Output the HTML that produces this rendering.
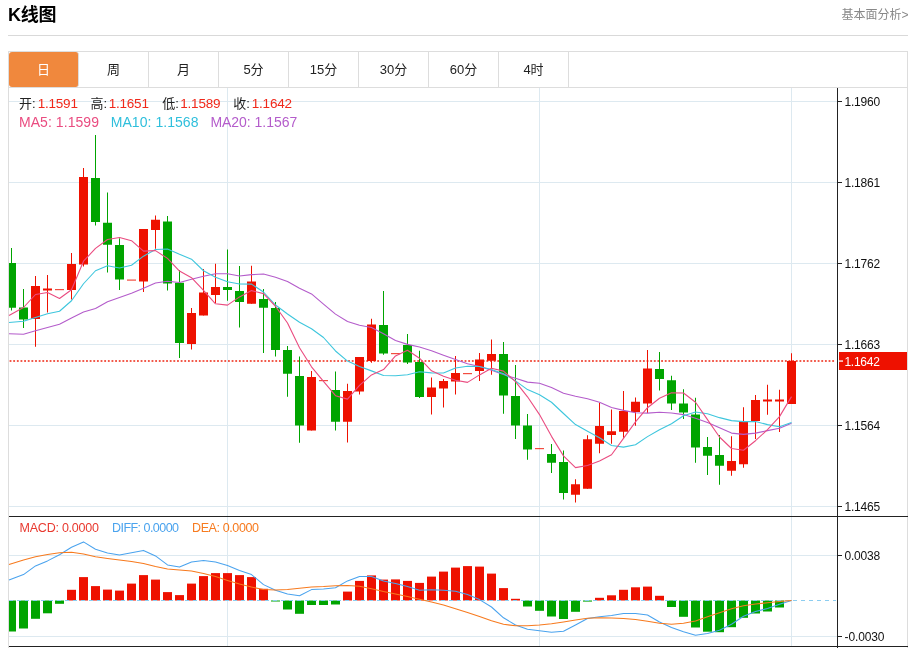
<!DOCTYPE html>
<html lang="zh-CN"><head><meta charset="utf-8"><title>K线图</title>
<style>
html,body{margin:0;padding:0;background:#fff;}
body{width:914px;height:648px;position:relative;overflow:hidden;font-family:"Liberation Sans","Noto Sans CJK SC",sans-serif;}
.title{position:absolute;left:8px;top:3px;font-size:18px;font-weight:bold;color:#000;line-height:24px;letter-spacing:-0.3px}
.more{position:absolute;right:5.5px;top:5.7px;font-size:12px;color:#888;line-height:18px}
.hr{position:absolute;left:8px;top:35px;width:900px;height:1px;background:#d9d9d9}
.box{position:absolute;left:8px;top:51px;width:898px;height:597px;border:1px solid #ddd;border-bottom:none}
.tabs{position:absolute;left:9px;top:52px;height:35px;width:898px;border-bottom:1px solid #ddd}
.tab{position:absolute;top:0;width:69px;height:35px;border-right:1px solid #ddd;text-align:center;line-height:35px;font-size:13px;color:#222}
.tab.on{background:#f0883d;color:#fff;border-radius:3px}
</style></head><body>
<div class="title">K线图</div>
<div class="more">基本面分析&gt;</div>
<div class="hr"></div>
<div class="box"></div>
<div class="tabs">
<div class="tab on" style="left:0px">日</div><div class="tab" style="left:70px">周</div><div class="tab" style="left:140px">月</div><div class="tab" style="left:210px">5分</div><div class="tab" style="left:280px">15分</div><div class="tab" style="left:350px">30分</div><div class="tab" style="left:420px">60分</div><div class="tab" style="left:490px">4时</div>
</div>
<svg width="914" height="648" viewBox="0 0 914 648" style="position:absolute;left:0;top:0">
<g shape-rendering="crispEdges" fill="#dde9f0">
<rect x="9" y="101" width="828" height="1"/>
<rect x="9" y="182" width="828" height="1"/>
<rect x="9" y="263" width="828" height="1"/>
<rect x="9" y="344" width="828" height="1"/>
<rect x="9" y="425" width="828" height="1"/>
<rect x="9" y="506" width="828" height="1"/>
<rect x="9" y="555" width="828" height="1"/>
<rect x="9" y="636" width="828" height="1"/>
<rect x="227" y="88" width="1" height="558"/>
<rect x="539" y="88" width="1" height="558"/>
<rect x="791" y="88" width="1" height="558"/>
</g>
<g>
<rect x="9" y="600.5" width="7" height="31" fill="#00a400"/>
<rect x="19" y="600.5" width="9" height="28" fill="#00a400"/>
<rect x="31" y="600.5" width="9" height="18.3" fill="#00a400"/>
<rect x="43" y="600.5" width="9" height="12.8" fill="#00a400"/>
<rect x="55" y="600.5" width="9" height="3.3" fill="#00a400"/>
<rect x="67" y="589.8" width="9" height="10.7" fill="#ee1100"/>
<rect x="79" y="577.1" width="9" height="23.4" fill="#ee1100"/>
<rect x="91" y="586.1" width="9" height="14.4" fill="#ee1100"/>
<rect x="103" y="589.6" width="9" height="10.9" fill="#ee1100"/>
<rect x="115" y="590.6" width="9" height="9.9" fill="#ee1100"/>
<rect x="127" y="583.6" width="9" height="16.9" fill="#ee1100"/>
<rect x="139" y="575.1" width="9" height="25.4" fill="#ee1100"/>
<rect x="151" y="579.6" width="9" height="20.9" fill="#ee1100"/>
<rect x="163" y="592.1" width="9" height="8.4" fill="#ee1100"/>
<rect x="175" y="595.1" width="9" height="5.4" fill="#ee1100"/>
<rect x="187" y="583.6" width="9" height="16.9" fill="#ee1100"/>
<rect x="199" y="576.1" width="9" height="24.4" fill="#ee1100"/>
<rect x="211" y="573.1" width="9" height="27.4" fill="#ee1100"/>
<rect x="223" y="573.1" width="9" height="27.4" fill="#ee1100"/>
<rect x="235" y="575.1" width="9" height="25.4" fill="#ee1100"/>
<rect x="247" y="577.1" width="9" height="23.4" fill="#ee1100"/>
<rect x="259" y="588.8" width="9" height="11.7" fill="#ee1100"/>
<rect x="271" y="600.5" width="9" height="1" fill="#00a400"/>
<rect x="283" y="600.5" width="9" height="9" fill="#00a400"/>
<rect x="295" y="600.5" width="9" height="13.3" fill="#00a400"/>
<rect x="307" y="600.5" width="9" height="4.5" fill="#00a400"/>
<rect x="319" y="600.5" width="9" height="4.5" fill="#00a400"/>
<rect x="331" y="600.5" width="9" height="4" fill="#00a400"/>
<rect x="343" y="591.6" width="9" height="8.9" fill="#ee1100"/>
<rect x="355" y="580.9" width="9" height="19.6" fill="#ee1100"/>
<rect x="367" y="575.4" width="9" height="25.1" fill="#ee1100"/>
<rect x="379" y="579.6" width="9" height="20.9" fill="#ee1100"/>
<rect x="391" y="579.4" width="9" height="21.1" fill="#ee1100"/>
<rect x="403" y="580.9" width="9" height="19.6" fill="#ee1100"/>
<rect x="415" y="582.9" width="9" height="17.6" fill="#ee1100"/>
<rect x="427" y="576.6" width="9" height="23.9" fill="#ee1100"/>
<rect x="439" y="571.6" width="9" height="28.9" fill="#ee1100"/>
<rect x="451" y="567.6" width="9" height="32.9" fill="#ee1100"/>
<rect x="463" y="566.1" width="9" height="34.4" fill="#ee1100"/>
<rect x="475" y="566.6" width="9" height="33.9" fill="#ee1100"/>
<rect x="487" y="573.6" width="9" height="26.9" fill="#ee1100"/>
<rect x="499" y="588.1" width="9" height="12.4" fill="#ee1100"/>
<rect x="511" y="598.8" width="9" height="1.7" fill="#ee1100"/>
<rect x="523" y="600.5" width="9" height="6" fill="#00a400"/>
<rect x="535" y="600.5" width="9" height="10.3" fill="#00a400"/>
<rect x="547" y="600.5" width="9" height="16" fill="#00a400"/>
<rect x="559" y="600.5" width="9" height="18.5" fill="#00a400"/>
<rect x="571" y="600.5" width="9" height="11.3" fill="#00a400"/>
<rect x="583" y="600.5" width="9" height="1.1" fill="#00a400"/>
<rect x="595" y="597.8" width="9" height="2.7" fill="#ee1100"/>
<rect x="607" y="595.3" width="9" height="5.2" fill="#ee1100"/>
<rect x="619" y="589.8" width="9" height="10.7" fill="#ee1100"/>
<rect x="631" y="587.3" width="9" height="13.2" fill="#ee1100"/>
<rect x="643" y="586.6" width="9" height="13.9" fill="#ee1100"/>
<rect x="655" y="595.8" width="9" height="4.7" fill="#ee1100"/>
<rect x="667" y="600.5" width="9" height="6.5" fill="#00a400"/>
<rect x="679" y="600.5" width="9" height="16.3" fill="#00a400"/>
<rect x="691" y="600.5" width="9" height="27" fill="#00a400"/>
<rect x="703" y="600.5" width="9" height="31.2" fill="#00a400"/>
<rect x="715" y="600.5" width="9" height="31.7" fill="#00a400"/>
<rect x="727" y="600.5" width="9" height="26.7" fill="#00a400"/>
<rect x="739" y="600.5" width="9" height="17.3" fill="#00a400"/>
<rect x="751" y="600.5" width="9" height="13" fill="#00a400"/>
<rect x="763" y="600.5" width="9" height="11" fill="#00a400"/>
<rect x="775" y="600.5" width="9" height="7" fill="#00a400"/>
</g>
<line x1="9" y1="600.5" x2="836" y2="600.5" stroke="#8ccdf0" stroke-width="1" stroke-dasharray="4,4" shape-rendering="crispEdges"/>
<polyline fill="none" stroke="#4aa3ee" stroke-width="1.05" stroke-linejoin="round" points="9,580.1 23.5,574.6 35.5,565.9 47.5,560.9 59.5,554.7 71.5,547.2 83.5,541.9 95.5,549.2 107.5,552.9 119.5,554.9 131.5,552.7 143.5,550.4 155.5,555.9 167.5,564.9 179.5,567.1 191.5,562.1 203.5,560.6 215.5,562.1 227.5,565.6 239.5,570.4 251.5,574.6 263.5,584.6 275.5,590.3 287.5,594.1 299.5,595.8 311.5,589.6 323.5,589.1 335.5,587.8 347.5,580.9 359.5,576.4 371.5,576.4 383.5,581.1 395.5,583.4 407.5,586.6 419.5,590.3 431.5,589.8 443.5,590.3 455.5,591.3 467.5,594.6 479.5,599.6 491.5,607 503.5,617.8 515.5,625 527.5,629.2 539.5,630.7 551.5,632.2 563.5,631.2 575.5,625 587.5,618.5 599.5,616.8 611.5,615.5 623.5,613.5 635.5,613.5 647.5,615 659.5,622 671.5,627.5 683.5,631.7 695.5,635.2 707.5,633.5 719.5,630.2 731.5,624.3 743.5,616.3 755.5,611.5 767.5,608.5 779.5,604.3 791.5,600.4"/>
<polyline fill="none" stroke="#f77a1e" stroke-width="1.05" stroke-linejoin="round" points="9,564.6 23.5,560.1 35.5,556.7 47.5,554.4 59.5,552.7 71.5,552.2 83.5,553.9 95.5,556.7 107.5,558.4 119.5,559.9 131.5,561.4 143.5,563.6 155.5,566.6 167.5,568.9 179.5,569.9 191.5,570.9 203.5,573.4 215.5,576.6 227.5,580.4 239.5,584.1 251.5,587.1 263.5,589.6 275.5,590.1 287.5,589.6 299.5,588.3 311.5,587.1 323.5,586.6 335.5,585.8 347.5,585.6 359.5,586.3 371.5,588.8 383.5,591.6 395.5,594.1 407.5,596.6 419.5,599.3 431.5,602.1 443.5,605 455.5,608.8 467.5,612.5 479.5,616.5 491.5,620.8 503.5,624.3 515.5,625.8 527.5,625.8 539.5,625 551.5,623.8 563.5,622 575.5,620 587.5,618.3 599.5,617.8 611.5,618 623.5,618.5 635.5,619.5 647.5,621.3 659.5,623.3 671.5,624.3 683.5,623.3 695.5,621 707.5,616.8 719.5,612.8 731.5,608.8 743.5,605.8 755.5,604 767.5,602.8 779.5,601.6 791.5,600.4"/>
<line x1="9.6" y1="361" x2="835.5" y2="361" stroke="#f2594a" stroke-width="2" stroke-dasharray="1.82,1.82"/>
<g>
<rect x="11" y="248" width="1" height="62.5" fill="#00a400"/>
<rect x="9" y="263" width="7" height="44.75" fill="#00a400"/>
<rect x="23" y="289" width="1" height="39" fill="#00a400"/>
<rect x="19" y="307.5" width="9" height="12" fill="#00a400"/>
<rect x="35" y="276" width="1" height="70.75" fill="#ee1100"/>
<rect x="31" y="286" width="9" height="33" fill="#ee1100"/>
<rect x="47" y="275" width="1" height="37.5" fill="#ee1100"/>
<rect x="43" y="288.5" width="9" height="2" fill="#ee1100"/>
<rect x="55" y="289" width="9" height="1.2" fill="#ee1100" opacity="0.75"/>
<rect x="71" y="253" width="1" height="46.5" fill="#ee1100"/>
<rect x="67" y="264" width="9" height="26" fill="#ee1100"/>
<rect x="83" y="168" width="1" height="98.5" fill="#ee1100"/>
<rect x="79" y="177" width="9" height="87.5" fill="#ee1100"/>
<rect x="95" y="135" width="1" height="90.5" fill="#00a400"/>
<rect x="91" y="178" width="9" height="44" fill="#00a400"/>
<rect x="107" y="192.5" width="1" height="80" fill="#00a400"/>
<rect x="103" y="222.75" width="9" height="22" fill="#00a400"/>
<rect x="119" y="238.3" width="1" height="51.7" fill="#00a400"/>
<rect x="115" y="245" width="9" height="34.5" fill="#00a400"/>
<rect x="127" y="279.5" width="9" height="1.2" fill="#ee1100" opacity="0.75"/>
<rect x="143" y="229" width="1" height="63" fill="#ee1100"/>
<rect x="139" y="229" width="9" height="52.5" fill="#ee1100"/>
<rect x="155" y="215.5" width="1" height="33.25" fill="#ee1100"/>
<rect x="151" y="219.75" width="9" height="10.25" fill="#ee1100"/>
<rect x="167" y="216" width="1" height="74.5" fill="#00a400"/>
<rect x="163" y="221.5" width="9" height="62" fill="#00a400"/>
<rect x="179" y="270" width="1" height="88" fill="#00a400"/>
<rect x="175" y="282.75" width="9" height="60.25" fill="#00a400"/>
<rect x="191" y="308" width="1" height="41.5" fill="#ee1100"/>
<rect x="187" y="313" width="9" height="31" fill="#ee1100"/>
<rect x="203" y="269" width="1" height="46.5" fill="#ee1100"/>
<rect x="199" y="292.5" width="9" height="23" fill="#ee1100"/>
<rect x="215" y="263.75" width="1" height="39.25" fill="#ee1100"/>
<rect x="211" y="287" width="9" height="8" fill="#ee1100"/>
<rect x="227" y="249.5" width="1" height="51.25" fill="#00a400"/>
<rect x="223" y="287" width="9" height="3" fill="#00a400"/>
<rect x="239" y="266" width="1" height="61.5" fill="#00a400"/>
<rect x="235" y="291" width="9" height="11" fill="#00a400"/>
<rect x="251" y="265.75" width="1" height="38" fill="#ee1100"/>
<rect x="247" y="281.5" width="9" height="22.25" fill="#ee1100"/>
<rect x="263" y="289" width="1" height="64" fill="#00a400"/>
<rect x="259" y="299" width="9" height="8.75" fill="#00a400"/>
<rect x="275" y="302" width="1" height="54.5" fill="#00a400"/>
<rect x="271" y="308" width="9" height="42" fill="#00a400"/>
<rect x="287" y="346" width="1" height="50.75" fill="#00a400"/>
<rect x="283" y="350" width="9" height="23.75" fill="#00a400"/>
<rect x="299" y="356.5" width="1" height="86.25" fill="#00a400"/>
<rect x="295" y="376" width="9" height="49.5" fill="#00a400"/>
<rect x="311" y="371" width="1" height="59.5" fill="#ee1100"/>
<rect x="307" y="377" width="9" height="53.5" fill="#ee1100"/>
<rect x="319" y="380" width="9" height="1.2" fill="#ee1100" opacity="0.75"/>
<rect x="335" y="371.5" width="1" height="59" fill="#00a400"/>
<rect x="331" y="390" width="9" height="31.75" fill="#00a400"/>
<rect x="347" y="383.75" width="1" height="58.75" fill="#ee1100"/>
<rect x="343" y="391" width="9" height="30.75" fill="#ee1100"/>
<rect x="359" y="357" width="1" height="37.5" fill="#ee1100"/>
<rect x="355" y="357" width="9" height="34.5" fill="#ee1100"/>
<rect x="371" y="318.75" width="1" height="44" fill="#ee1100"/>
<rect x="367" y="324.5" width="9" height="36.5" fill="#ee1100"/>
<rect x="383" y="291" width="1" height="63.75" fill="#00a400"/>
<rect x="379" y="325" width="9" height="28.5" fill="#00a400"/>
<rect x="391" y="353" width="9" height="1.2" fill="#ee1100" opacity="0.75"/>
<rect x="407" y="334" width="1" height="30" fill="#00a400"/>
<rect x="403" y="345" width="9" height="17.5" fill="#00a400"/>
<rect x="419" y="350.75" width="1" height="47.25" fill="#00a400"/>
<rect x="415" y="362" width="9" height="35" fill="#00a400"/>
<rect x="431" y="377.5" width="1" height="37" fill="#ee1100"/>
<rect x="427" y="387.5" width="9" height="9.5" fill="#ee1100"/>
<rect x="443" y="379" width="1" height="28.5" fill="#ee1100"/>
<rect x="439" y="381" width="9" height="7.5" fill="#ee1100"/>
<rect x="455" y="356" width="1" height="38.5" fill="#ee1100"/>
<rect x="451" y="373" width="9" height="8.5" fill="#ee1100"/>
<rect x="463" y="373" width="9" height="1.2" fill="#ee1100" opacity="0.75"/>
<rect x="479" y="353" width="1" height="28" fill="#ee1100"/>
<rect x="475" y="359.5" width="9" height="11.5" fill="#ee1100"/>
<rect x="491" y="339.5" width="1" height="35.25" fill="#ee1100"/>
<rect x="487" y="354" width="9" height="6.75" fill="#ee1100"/>
<rect x="503" y="342" width="1" height="71.75" fill="#00a400"/>
<rect x="499" y="354" width="9" height="41.5" fill="#00a400"/>
<rect x="515" y="365" width="1" height="74" fill="#00a400"/>
<rect x="511" y="396" width="9" height="29.5" fill="#00a400"/>
<rect x="527" y="414" width="1" height="45.75" fill="#00a400"/>
<rect x="523" y="425.5" width="9" height="24" fill="#00a400"/>
<rect x="535" y="448" width="9" height="1.2" fill="#ee1100" opacity="0.75"/>
<rect x="551" y="444" width="1" height="29" fill="#00a400"/>
<rect x="547" y="454" width="9" height="8.75" fill="#00a400"/>
<rect x="563" y="450.5" width="1" height="49" fill="#00a400"/>
<rect x="559" y="462" width="9" height="31" fill="#00a400"/>
<rect x="575" y="479.25" width="1" height="23.25" fill="#ee1100"/>
<rect x="571" y="484.25" width="9" height="10.5" fill="#ee1100"/>
<rect x="587" y="435.25" width="1" height="53.5" fill="#ee1100"/>
<rect x="583" y="439.25" width="9" height="49.5" fill="#ee1100"/>
<rect x="599" y="403" width="1" height="50.25" fill="#ee1100"/>
<rect x="595" y="426" width="9" height="17.75" fill="#ee1100"/>
<rect x="611" y="409.5" width="1" height="34.25" fill="#ee1100"/>
<rect x="607" y="431.25" width="9" height="3.75" fill="#ee1100"/>
<rect x="623" y="391" width="1" height="46.75" fill="#ee1100"/>
<rect x="619" y="411" width="9" height="20.75" fill="#ee1100"/>
<rect x="635" y="397.5" width="1" height="28.25" fill="#ee1100"/>
<rect x="631" y="401.75" width="9" height="10.25" fill="#ee1100"/>
<rect x="647" y="350" width="1" height="63" fill="#ee1100"/>
<rect x="643" y="368.5" width="9" height="35" fill="#ee1100"/>
<rect x="659" y="352" width="1" height="38.5" fill="#00a400"/>
<rect x="655" y="369" width="9" height="10" fill="#00a400"/>
<rect x="671" y="375.75" width="1" height="34.25" fill="#00a400"/>
<rect x="667" y="380.25" width="9" height="23.25" fill="#00a400"/>
<rect x="683" y="389.25" width="1" height="29.75" fill="#00a400"/>
<rect x="679" y="403.5" width="9" height="9" fill="#00a400"/>
<rect x="695" y="397.75" width="1" height="65" fill="#00a400"/>
<rect x="691" y="414.5" width="9" height="33" fill="#00a400"/>
<rect x="707" y="437" width="1" height="38" fill="#00a400"/>
<rect x="703" y="447" width="9" height="8.75" fill="#00a400"/>
<rect x="719" y="435" width="1" height="49.75" fill="#00a400"/>
<rect x="715" y="455" width="9" height="10.75" fill="#00a400"/>
<rect x="731" y="436.25" width="1" height="39.5" fill="#ee1100"/>
<rect x="727" y="461" width="9" height="9.75" fill="#ee1100"/>
<rect x="743" y="407.25" width="1" height="60.5" fill="#ee1100"/>
<rect x="739" y="421" width="9" height="43.25" fill="#ee1100"/>
<rect x="755" y="395" width="1" height="44" fill="#ee1100"/>
<rect x="751" y="400" width="9" height="21" fill="#ee1100"/>
<rect x="767" y="384.75" width="1" height="30" fill="#ee1100"/>
<rect x="763" y="399.5" width="9" height="2" fill="#ee1100"/>
<rect x="779" y="389.75" width="1" height="42.25" fill="#ee1100"/>
<rect x="775" y="399.5" width="9" height="2" fill="#ee1100"/>
<rect x="791" y="353.25" width="1" height="50.75" fill="#ee1100"/>
<rect x="787" y="361" width="9" height="43" fill="#ee1100"/>
</g>
<polyline fill="none" stroke="#b45ccb" stroke-width="1.1" stroke-linejoin="round" points="9,333.75 23.5,334.25 35.5,330.75 47.5,327.5 59.5,324.25 71.5,318 83.5,312 95.5,308.5 107.5,301.75 119.5,297.5 131.5,293.25 143.5,288.25 155.5,283 167.5,281.25 179.5,282.5 191.5,279.25 203.5,276.25 215.5,273.75 227.5,273.75 239.5,275.98 251.5,274.66 263.5,274.07 275.5,277.27 287.5,281.49 299.5,288.29 311.5,293.94 323.5,304.11 335.5,314.1 347.5,321.41 359.5,325.29 371.5,327.5 383.5,333.73 395.5,340.41 407.5,344.36 419.5,347.06 431.5,350.79 443.5,355.21 455.5,359.51 467.5,363.69 479.5,366.56 491.5,370.19 503.5,374.57 515.5,378.35 527.5,382.14 539.5,383.29 551.5,387.57 563.5,393.2 575.5,396.32 587.5,398.74 599.5,402.19 611.5,407.52 623.5,410.4 635.5,412.81 647.5,413.11 659.5,412.21 671.5,413.01 683.5,414.59 695.5,418.31 707.5,422.43 719.5,427.74 731.5,433.09 743.5,434.36 755.5,433.09 767.5,430.64 779.5,428.24 791.5,423.15"/>
<polyline fill="none" stroke="#3ec6dd" stroke-width="1.1" stroke-linejoin="round" points="9,322.5 23.5,321.25 35.5,317.5 47.5,313.75 59.5,311.25 71.5,300.75 83.5,283.75 95.5,270.75 107.5,265.75 119.5,267.95 131.5,265.2 143.5,256.15 155.5,249.53 167.5,248.93 179.5,254.28 191.5,259.18 203.5,270.73 215.5,277.23 227.5,281.75 239.5,284 251.5,284.12 263.5,292 275.5,305.02 287.5,314.05 299.5,322.3 311.5,328.7 323.5,337.5 335.5,350.98 347.5,361.07 359.5,366.57 371.5,370.88 383.5,375.45 395.5,375.8 407.5,374.68 419.5,371.82 431.5,372.88 443.5,372.93 455.5,368.05 467.5,366.3 479.5,366.55 491.5,369.5 503.5,373.7 515.5,380.9 527.5,389.6 539.5,394.75 551.5,402.27 563.5,413.48 575.5,424.6 587.5,431.18 599.5,437.82 611.5,445.55 623.5,447.1 635.5,444.73 647.5,436.62 659.5,429.68 671.5,423.75 683.5,415.7 695.5,412.02 707.5,413.68 719.5,417.65 731.5,420.62 743.5,421.62 755.5,421.45 767.5,424.65 779.5,426.8 791.5,422.55"/>
<polyline fill="none" stroke="#ea4c80" stroke-width="1.1" stroke-linejoin="round" points="9,315.5 23.5,307.5 35.5,294.5 47.5,292.5 59.5,298.45 71.5,289.7 83.5,261.2 95.5,248.4 107.5,239.45 119.5,237.45 131.5,240.7 143.5,251.1 155.5,250.65 167.5,258.4 179.5,271.1 191.5,277.65 203.5,290.35 215.5,303.8 227.5,305.1 239.5,296.9 251.5,290.6 263.5,293.65 275.5,306.25 287.5,323 299.5,347.7 311.5,366.8 323.5,381.35 335.5,395.7 347.5,399.15 359.5,385.45 371.5,374.95 383.5,369.55 395.5,355.9 407.5,350.2 419.5,358.2 431.5,370.8 443.5,376.3 455.5,380.2 467.5,382.4 479.5,374.9 491.5,368.2 503.5,371.1 515.5,381.6 527.5,396.8 539.5,414.6 551.5,436.35 563.5,455.85 575.5,467.6 587.5,465.55 599.5,461.05 611.5,454.75 623.5,438.35 635.5,421.85 647.5,407.7 659.5,398.3 671.5,392.75 683.5,393.05 695.5,402.2 707.5,419.65 719.5,437 731.5,448.5 743.5,450.2 755.5,440.7 767.5,429.65 779.5,416.6 791.5,396.6"/>
<g shape-rendering="crispEdges" fill="#222">
<rect x="837" y="88" width="1" height="560"/>
<rect x="9" y="516" width="899" height="1"/>
<rect x="9" y="646" width="899" height="1"/>
<rect x="838" y="101" width="4" height="1"/>
<rect x="838" y="182" width="4" height="1"/>
<rect x="838" y="263" width="4" height="1"/>
<rect x="838" y="344" width="4" height="1"/>
<rect x="838" y="425" width="4" height="1"/>
<rect x="838" y="506" width="4" height="1"/>
<rect x="838" y="555" width="4" height="1"/>
<rect x="838" y="636" width="4" height="1"/>
</g>
<g font-family="'Liberation Sans', sans-serif" font-size="12" fill="#111" textLength="35">
<text x="844.4" y="105.7" textLength="35.8" lengthAdjust="spacing">1.1960</text>
<text x="844.4" y="186.7" textLength="35.8" lengthAdjust="spacing">1.1861</text>
<text x="844.4" y="267.7" textLength="35.8" lengthAdjust="spacing">1.1762</text>
<text x="844.4" y="348.7" textLength="35.8" lengthAdjust="spacing">1.1663</text>
<text x="844.4" y="429.7" textLength="35.8" lengthAdjust="spacing">1.1564</text>
<text x="844.4" y="510.7" textLength="35.8" lengthAdjust="spacing">1.1465</text>
<text x="844.4" y="559.7" textLength="35.8" lengthAdjust="spacing">0.0038</text>
<text x="844.6" y="640.7" textLength="39.8" lengthAdjust="spacing">-0.0030</text>
</g>
<rect x="839" y="352" width="68" height="18" fill="#ee1100" shape-rendering="crispEdges"/>
<rect x="839" y="360.4" width="4" height="1.3" fill="#fff"/>
<text x="844.4" y="365.7" font-family="'Liberation Sans', sans-serif" font-size="12" fill="#fff" textLength="35.5" lengthAdjust="spacing">1.1642</text>
<g font-family="'Liberation Sans', 'Noto Sans CJK SC', sans-serif" font-size="13">
<text x="19" y="108.4" fill="#222">开:</text>
<text x="37.7" y="108.4" fill="#f0281a" textLength="40.2" lengthAdjust="spacing" font-size="13.5">1.1591</text>
<text x="90.5" y="108.4" fill="#222">高:</text>
<text x="108.7" y="108.4" fill="#f0281a" textLength="40.2" lengthAdjust="spacing" font-size="13.5">1.1651</text>
<text x="162.3" y="108.4" fill="#222">低:</text>
<text x="180.3" y="108.4" fill="#f0281a" textLength="40.2" lengthAdjust="spacing" font-size="13.5">1.1589</text>
<text x="233.3" y="108.4" fill="#222">收:</text>
<text x="251.8" y="108.4" fill="#f0281a" textLength="40.2" lengthAdjust="spacing" font-size="13.5">1.1642</text>
<text x="19" y="127.4" fill="#ea4c80" textLength="80" lengthAdjust="spacing" font-size="14">MA5: 1.1599</text>
<text x="110.7" y="127.4" fill="#2fbfdc" textLength="87.8" lengthAdjust="spacing" font-size="14">MA10: 1.1568</text>
<text x="210.4" y="127.4" fill="#b45ccb" textLength="86.8" lengthAdjust="spacing" font-size="14">MA20: 1.1567</text>
<text x="19.6" y="532" fill="#e8392f" textLength="79.3" lengthAdjust="spacing" font-size="12.5">MACD: 0.0000</text>
<text x="112" y="532" fill="#4aa3ee" textLength="67" lengthAdjust="spacing" font-size="12.5">DIFF: 0.0000</text>
<text x="192" y="532" fill="#f77a1e" textLength="67" lengthAdjust="spacing" font-size="12.5">DEA: 0.0000</text>
</g>
</svg>
</body></html>
